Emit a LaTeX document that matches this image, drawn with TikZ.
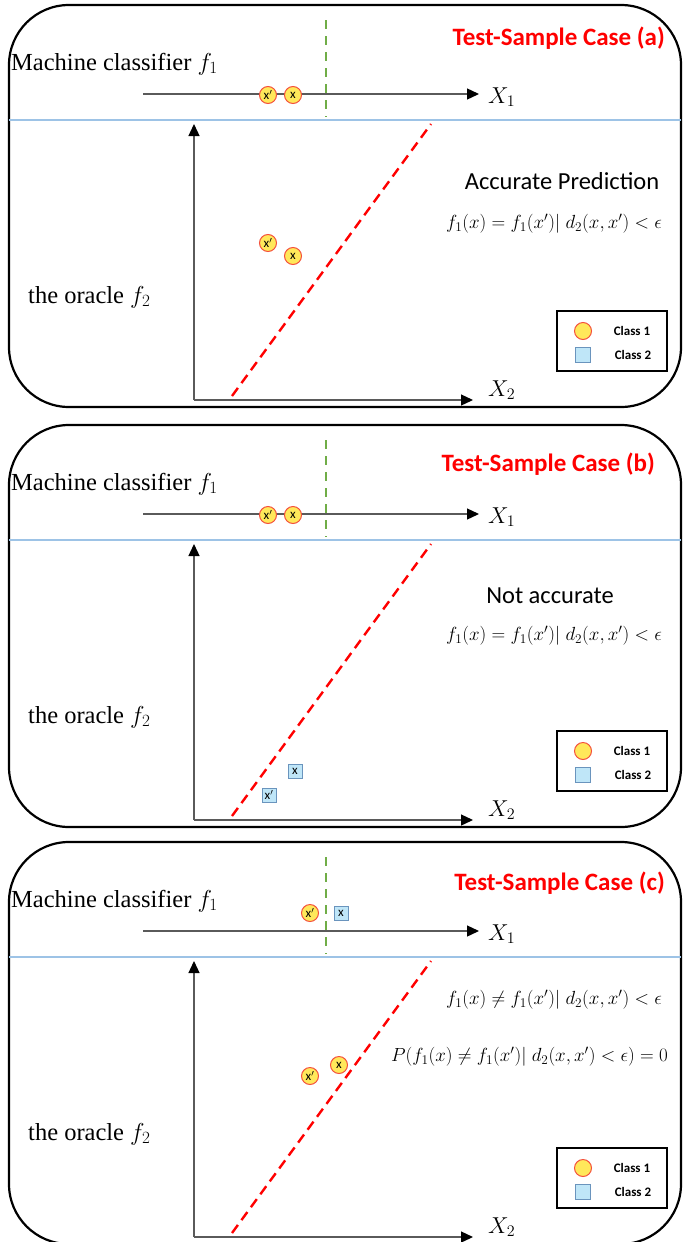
\RequirePackage{fix-cm}
\documentclass[tikz,border=0pt]{standalone}
\usepackage{fontspec}
\setmainfont{Liberation Serif}
\newfontfamily\cali{Carlito}
\usetikzlibrary{arrows.meta}
\definecolor{ptyellow}{HTML}{FFE85A}
\definecolor{ptred}{HTML}{F4503C}
\definecolor{sqfill}{HTML}{BFE6F8}
\definecolor{sqdraw}{HTML}{6A94BD}
\definecolor{sepblue}{HTML}{9DC3E6}
\definecolor{axgray}{HTML}{5A5A5A}
\definecolor{dgreen}{HTML}{70AD47}
\tikzset{
  frame/.style={draw=black, line width=2.2pt, rounded corners=60pt},
  sep/.style={draw=sepblue, line width=1.8pt},
  axis/.style={draw=axgray, line width=1.3pt, -{Triangle[length=12pt,width=11pt,color=black]}},
  gdash/.style={draw=dgreen, line width=2.4pt, dash pattern=on 9pt off 7pt},
  rdash/.style={draw=red, line width=2.4pt, dash pattern=on 10pt off 6pt},
  cls1/.style={circle, draw=ptred, fill=ptyellow, line width=1pt, minimum size=17pt, inner sep=0pt, font=\cali\fontsize{13}{13}\selectfont},
  cls2/.style={rectangle, draw=sqdraw, fill=sqfill, line width=1pt, minimum size=14pt, inner sep=0pt, font=\cali\fontsize{13}{13}\selectfont},
  mc/.style={inner sep=0pt, font=\fontsize{24.5}{26}\selectfont},
  axlbl/.style={inner sep=0pt, font=\fontsize{23}{23}\selectfont},
  title/.style={inner sep=0pt, text=red, font=\cali\bfseries\fontsize{25}{27}\selectfont},
  head/.style={inner sep=0pt, font=\cali\fontsize{24.5}{26}\selectfont},
  formula/.style={inner sep=0pt, font=\fontsize{19}{21}\selectfont},
  legbox/.style={draw=black, line width=2pt},
  legtxt/.style={inner sep=0pt, font=\cali\bfseries\fontsize{13}{14}\selectfont},
}
\newcommand{\panelbase}[1]{%
  \draw[frame] (9,5) rectangle (681,407);
  \coordinate (#1sl) at (9,120);
  \coordinate (#1sr) at (681,120);
  \draw[sep] (#1sl) -- (#1sr);
  \coordinate (#1gt) at (326,20);
  \coordinate (#1gb) at (326,117);
  \draw[gdash] (#1gt) -- (#1gb);
  \coordinate (#1xs) at (143,94);
  \coordinate (#1xe) at (479,94);
  \draw[axis] (#1xs) -- (#1xe);
  \node[axlbl, anchor=west] (#1X1) at (488,97) {$X_1$};
  \coordinate (#1o) at (194,400);
  \coordinate (#1yt) at (194,124);
  \coordinate (#1xt) at (473,400);
  \coordinate (#1rb) at (232,396);
  \coordinate (#1rt) at (431,124);
  \draw[rdash] (#1rb) -- (#1rt);
  \draw[axis] (#1o) -- (#1yt);
  \draw[axis] (#1o) -- (#1xt);
  \node[axlbl, anchor=west] (#1X2) at (488,390) {$X_2$};
  \node[mc, anchor=west] (#1mc) at (11,64) {Machine classifier $f_1$};
  \node[mc, anchor=west] (#1or) at (28,297) {the oracle $f_2$};
  \draw[legbox] (557,311) rectangle (667,371);
  \node[cls1] (#1l1) at (583,331) {};
  \node[cls2, minimum size=15pt] (#1l2) at (583,355) {};
  \node[legtxt] (#1t1) at (632,331) {Class 1};
  \node[legtxt] (#1t2) at (633,355) {Class 2};
}
\begin{document}
\begin{tikzpicture}[x=1pt,y=-1pt]
\useasboundingbox (0,0) rectangle (683,1242);
\clip (0,0) rectangle (683,1242);
% Panel (a)
\begin{scope}
  \panelbase{a}
  \node[cls1] (axp) at (268,95) {x$'$};
  \node[cls1] (ax) at (293,95) {x};
  \node[head] (ahead) at (562,181) {Accurate Prediction};
  \node[formula] (aform) at (554,224) {$f_1(x) = f_1(x')|\; d_2(x,x') < \epsilon$};
  \node[cls1] (apxp) at (268,243) {x$'$};
  \node[cls1] (apx) at (293,256) {x};
\end{scope}
\node[title, anchor=east] (atitle) at (665,38) {Test-Sample Case (a)};
% Panel (b)
\begin{scope}[yshift=-420pt]
  \panelbase{b}
  \node[cls1] (bxp) at (268,95) {x$'$};
  \node[cls1] (bx) at (293,95) {x};
  \node[head] (bhead) at (550,176) {Not accurate};
  \node[formula] (bform) at (554,216) {$f_1(x) = f_1(x')|\; d_2(x,x') < \epsilon$};
  \node[cls2] (bpx) at (295,351) {x};
  \node[cls2] (bpxp) at (269,375) {x$'$};
\end{scope}
\node[title, anchor=east] (btitle) at (655,464) {Test-Sample Case (b)};
% Panel (c)
\begin{scope}[yshift=-837pt]
  \panelbase{c}
  \node[cls1] (cxp) at (310,76) {x$'$};
  \node[cls2] (cx) at (341,76) {x};
  \node[formula] (cform1) at (554,163) {$f_1(x) \neq f_1(x')|\; d_2(x,x') < \epsilon$};
  \node[formula, anchor=east] (cform2) at (668,220) {$P(f_1(x) \neq f_1(x')|\; d_2(x,x') < \epsilon) = 0$};
  \node[cls1] (cpxp) at (310,239) {x$'$};
  \node[cls1] (cpx) at (339,228) {x};
\end{scope}
\node[title, anchor=east] (ctitle) at (665,883) {Test-Sample Case (c)};
\end{tikzpicture}
\end{document}
